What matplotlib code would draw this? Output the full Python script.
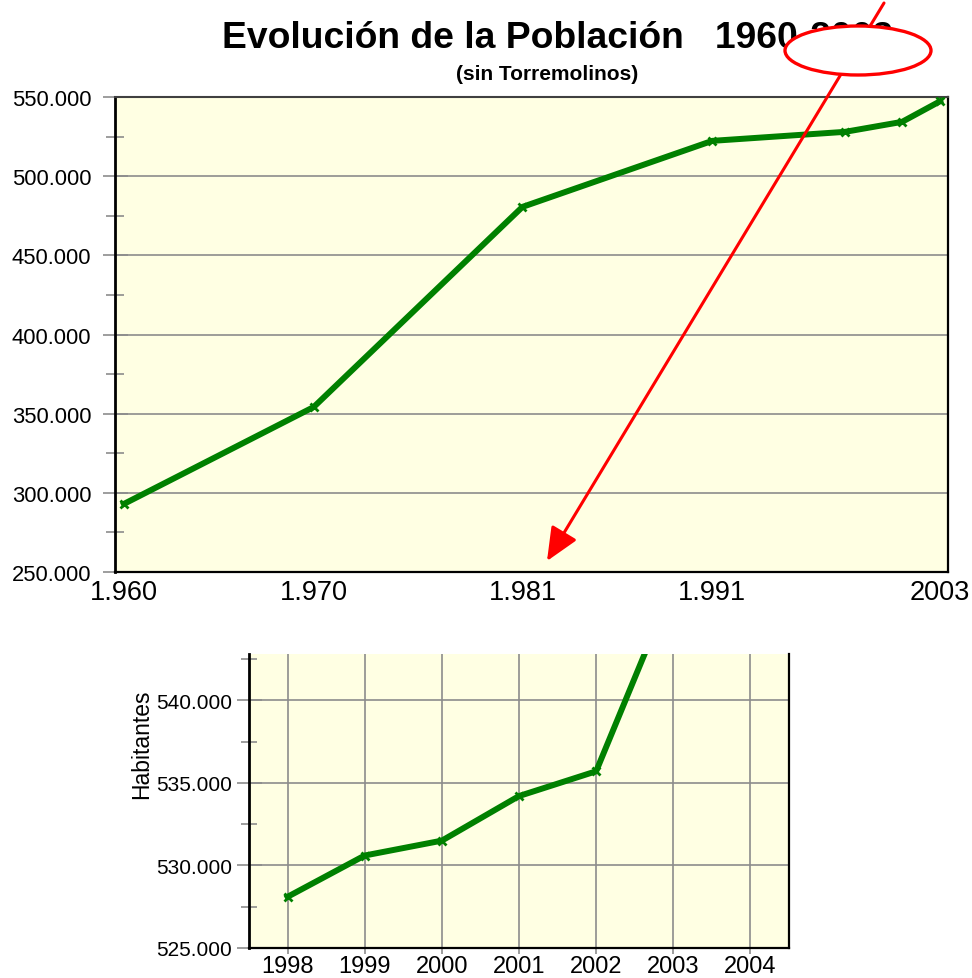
import matplotlib
matplotlib.use('Agg')
import matplotlib.pyplot as plt
from matplotlib.patches import Ellipse
from matplotlib.ticker import MultipleLocator, FuncFormatter

plt.rcParams['font.family'] = ['Liberation Sans', 'DejaVu Sans']

# data
years_long = [1960, 1970, 1981, 1991, 1998, 2001, 2003]
pop_long = [293000, 354200, 480600, 522300, 528000, 534300, 547300]
long_ticks = [1960, 1970, 1981, 1991, 2003]
long_labels = ['1.960', '1.970', '1.981', '1.991', '2003']

years_short = [1998, 1999, 2000, 2001, 2002, 2003]
pop_short = [528100, 530600, 531500, 534200, 535700, 547000]
short_ticks = [1998, 1999, 2000, 2001, 2002, 2003, 2004]

bg = '#FFFFE3'
green = '#008000'
grid_c = '#8C8C8C'


def miles(v, pos=None):
    return f'{v:,.0f}'.replace(',', '.')


fig = plt.figure(figsize=(9.72, 9.79), dpi=100)

# top chart
ax = fig.add_axes([115/972, 1-573/979, 833/972, 475/979])
ax.set_facecolor(bg)
ax.plot(years_long, pop_long, color=green, lw=4.3, marker='x', ms=6, mew=2, zorder=3)
ax.set_xlim(1959.53, 2003.42)
ax.set_ylim(250000, 550000)
ax.yaxis.set_major_locator(MultipleLocator(50000))
ax.yaxis.set_minor_locator(MultipleLocator(25000))
ax.yaxis.set_major_formatter(FuncFormatter(miles))
ax.set_xticks(long_ticks)
ax.set_xticklabels(long_labels)
ax.grid(axis='y', which='major', color=grid_c, lw=1.2)
ax.tick_params(axis='y', which='major', direction='inout', length=18, width=1.2, color=grid_c, labelsize=15.8, pad=8)
ax.tick_params(axis='y', which='minor', direction='inout', length=13, width=1.2, color=grid_c)
ax.tick_params(axis='x', length=0, labelsize=19.5, pad=5)
for s in ['left', 'bottom', 'right']:
    ax.spines[s].set_color('black')
    ax.spines[s].set_linewidth(1.6)
ax.spines['left'].set_linewidth(2)
ax.spines['top'].set_color('#404040')
ax.spines['top'].set_linewidth(1.5)

# bottom chart (zoom)
ax2 = fig.add_axes([249/972, 1-949/979, 540/972, 294/979])
ax2.set_facecolor(bg)
ax2.plot(years_short, pop_short, color=green, lw=4.3, marker='x', ms=6, mew=2, zorder=3)
ax2.set_xlim(1997.5, 2004.5)
ax2.set_ylim(525000, 542800)
ax2.yaxis.set_major_locator(MultipleLocator(5000))
ax2.yaxis.set_minor_locator(MultipleLocator(2500))
ax2.yaxis.set_major_formatter(FuncFormatter(miles))
ax2.set_xticks(short_ticks)
ax2.set_xticklabels([str(y) for y in short_ticks])
ax2.grid(which='major', color=grid_c, lw=1.2)
ax2.set_axisbelow(True)
ax2.tick_params(axis='y', which='major', direction='inout', length=18, width=1.2, color=grid_c, labelsize=15, pad=3)
ax2.tick_params(axis='y', which='minor', direction='inout', length=12, width=1.2, color=grid_c)
ax2.tick_params(axis='x', length=4, width=1.2, color=grid_c, labelsize=17, pad=1)
ax2.set_ylabel('Habitantes', fontsize=16.5)
ax2.yaxis.set_label_coords(-0.178, 0.697)
ax2.spines['top'].set_visible(False)
for s in ['left', 'bottom', 'right']:
    ax2.spines[s].set_color('black')
    ax2.spines[s].set_linewidth(1.6)
ax2.spines['left'].set_linewidth(2)

# titles
fig.text(222/972, 1-48/979, 'Evolución de la Población   1960-2003',
         fontsize=26.8, fontweight='bold', ha='left', va='baseline')
fig.text(547/972, 1-80/979, '(sin Torremolinos)',
         fontsize=15, fontweight='bold', ha='center', va='baseline')

# red mark-up drawn over the picture
ov = fig.add_axes([0, 0, 1, 1], zorder=10)
ov.set_xlim(0, 972)
ov.set_ylim(979, 0)
ov.axis('off')
ov.patch.set_alpha(0)
ov.annotate('', xy=(547, 562), xytext=(884, 4),
            arrowprops=dict(arrowstyle='-|>,head_length=1.7,head_width=0.75',
                            mutation_scale=12, color='red', lw=2.2,
                            shrinkA=0, shrinkB=0))
ov.add_patch(Ellipse((858, 51.5), 146, 49, fc='white', ec='red', lw=2.4, zorder=5))

fig.savefig('out.png', dpi=100)
